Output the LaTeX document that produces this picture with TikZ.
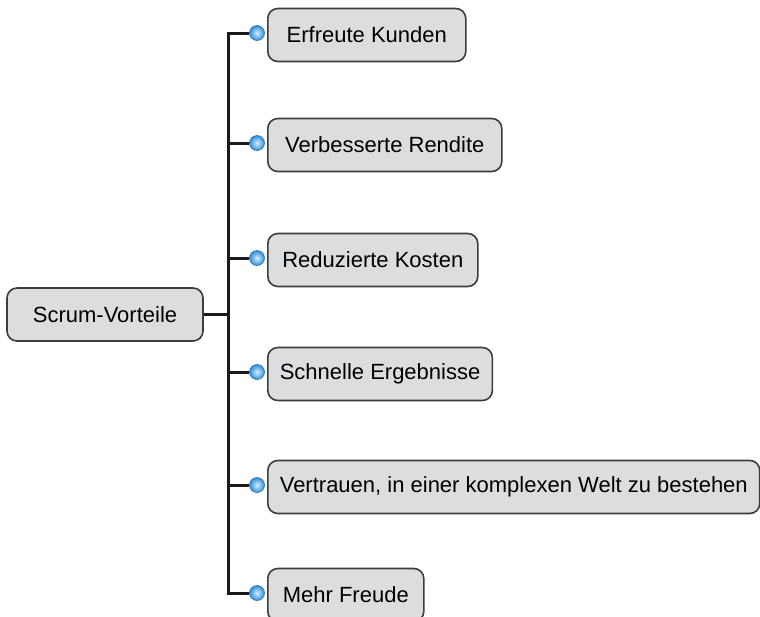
\documentclass[tikz,border=0pt]{standalone}
\usepackage{fontspec}
\setmainfont{Liberation Sans}
\usepackage{xcolor}
\definecolor{boxfill}{HTML}{DCDDDF}
\definecolor{boxline}{HTML}{3C3C3C}
\definecolor{branchline}{HTML}{1A1A1A}
\definecolor{knobblue}{HTML}{2E8FDC}
\definecolor{knobhi}{HTML}{D8ECFA}
\usepackage{tikz}

\tikzset{
  topic/.style={draw=boxline,fill=boxfill,rounded corners=5pt,line width=0.8pt,
    minimum height=26.5pt,inner xsep=6pt,font=\fontsize{11}{13}\selectfont},
  knob/.style={shape=circle,draw=knobblue!80!black,line width=0.3pt,shading=radial,
    inner color=knobhi,outer color=knobblue,minimum size=7.5pt,inner sep=0pt},
  branch/.style={line width=1.5pt,draw=branchline}
}

\begin{document}
\begin{tikzpicture}[x=0.5pt,y=-0.5pt]
        \useasboundingbox (0,0) rectangle (760,616);
        \node[topic,minimum width=98pt] (root) at (105,314.5){Scrum-Vorteile};
        \coordinate (trunk) at (228,314.5);
        % balls on the branches
        \node[knob] (k1) at (257,33){};
        \node[knob] (k2) at (257,143){};
        \node[knob] (k3) at (257,258){};
        \node[knob] (k4) at (257,372){};
        \node[knob] (k5) at (257,485){};
        \node[knob] (k6) at (257,593){};
        % the benefits
        \node[topic,anchor=west,minimum width=99pt] (b1) at (267,35){Erfreute Kunden};
        \node[topic,anchor=west,minimum width=117pt] (b2) at (267,145){Verbesserte Rendite};
        \node[topic,anchor=west,minimum width=105pt] (b3) at (267,260){Reduzierte Kosten};
        \node[topic,anchor=west,minimum width=108.5pt] (b4) at (267,374){Schnelle Ergebnisse};
        \node[topic,anchor=west,minimum width=245pt] (b5) at (267,487){Vertrauen, in einer komplexen Welt zu bestehen};
        \node[topic,anchor=west,minimum width=78pt] (b6) at (267,595){Mehr Freude};
        \path[branch] (root.east) edge (trunk);
        \path[branch] (trunk) edge[-,to path={|- (\tikztotarget)}] (k1.west);
        \path[branch] (trunk) edge[-,to path={|- (\tikztotarget)}] (k2.west);
        \path[branch] (trunk) edge[-,to path={|- (\tikztotarget)}] (k3.west);
        \path[branch] (trunk) edge[-,to path={|- (\tikztotarget)}] (k4.west);
        \path[branch] (trunk) edge[-,to path={|- (\tikztotarget)}] (k5.west);
        \path[branch] (trunk) edge[-,to path={|- (\tikztotarget)}] (k6.west);
\end{tikzpicture}
\end{document}
